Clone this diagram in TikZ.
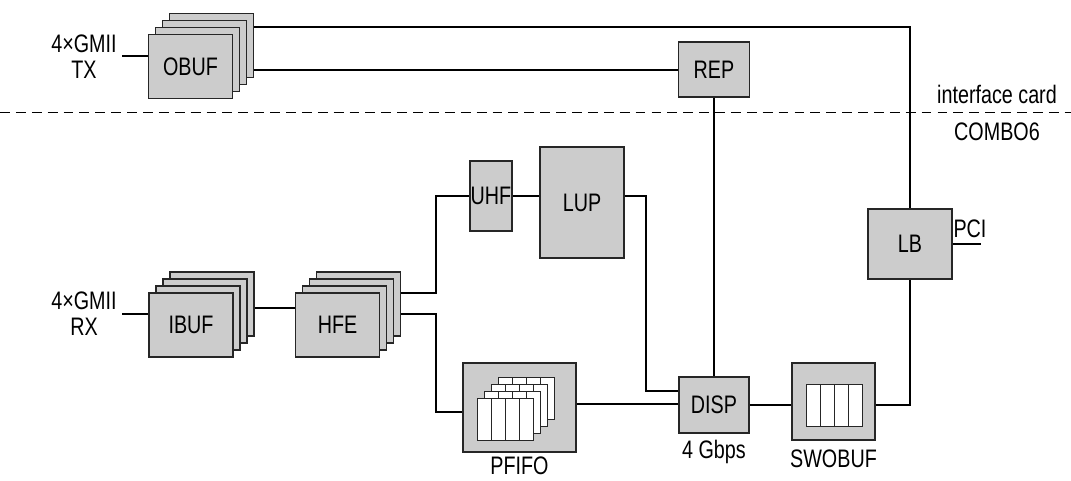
\documentclass[tikz,border=0pt]{standalone}
\usepackage{fontspec}
\setmainfont{Liberation Sans}[FakeStretch=0.78]
\usetikzlibrary{positioning,calc}

% stack of four boards: name, x, y, text
\newcommand{\layerstack}[4]{%
  \foreach \i in {3,2,1} {
    \node[block, minimum width=2.1cm, minimum height=1.6cm] (#1\i) at (#2+7*\i, #3-7*\i) {};
  }
  \node[block, minimum width=2.1cm, minimum height=1.6cm] (#1) at (#2,#3) {#4};
}

\begin{document}
\begin{tikzpicture}[x=0.025cm, y=-0.025cm,
    font=\fontsize{18}{18.4}\selectfont,
    block/.style={draw=black!85, fill=gray!40, line width=0.8pt, inner sep=0pt},
    bus/.style={line width=1.45pt},
    wire/.style={line width=1pt},
    cell/.style={draw=black!85, fill=white, line width=0.7pt}]
    \useasboundingbox (0,0) rectangle (1071,480);

    % interface card (transmit)
    \layerstack{OBUF}{190.5}{66.5}{OBUF}
    \node[block, minimum width=1.775cm, minimum height=1.375cm] (REP) at (714,69.5) {REP};
    \node[align=center] (txlbl) at (84,56.5) {4×GMII\\TX};
    \coordinate (txin) at (122,56);

    % border between the cards
    \coordinate (cardL) at (0,112);
    \coordinate (cardR) at (1071,112);
    \draw[dash pattern=on 7pt off 4.3pt, line width=0.6pt] (cardL) -- (cardR);
    \node[anchor=base] (cardlbl) at (997,103) {interface card};
    \node[anchor=base] (combolbl) at (997,140) {COMBO6};

    % COMBO6 (receive path)
    \layerstack{IBUF}{191}{325}{IBUF}
    \layerstack{HFE}{337.5}{325}{HFE}
    \node[align=center] (rxlbl) at (84,314) {4×GMII\\RX};
    \coordinate (rxin) at (122,314);
    \node[block, minimum width=1.05cm, minimum height=1.75cm] (UHF) at (491,196) {UHF};
    \node[block, minimum width=2.1cm, minimum height=2.775cm] (LUP) at (582,202.5) {LUP};
    \node[block, minimum width=2.825cm, minimum height=2.225cm] (PFIFO) at (519.5,407.5) {};
    \node[block, minimum width=1.75cm, minimum height=1.4cm] (DISP) at (714,405) {DISP};
    \node[block, minimum width=2.075cm, minimum height=1.925cm] (SWOBUF) at (833.5,401.5) {};
    \node[block, minimum width=2.1cm, minimum height=1.75cm] (LB) at (910,244) {LB};

    % fifo cells
    \begin{scope}[shift={(PFIFO.center)}]
        \foreach \l in {3,2,1,0}
            \foreach \c in {0,...,3}
                \draw[cell] (-42.5+7*\l+14*\c, -9.5-7*\l) rectangle ++(14,42);
    \end{scope}
    \begin{scope}[shift={(SWOBUF.center)}]
        \foreach \c in {0,...,3}
            \draw[cell] (-27.5+14*\c, -17.5) rectangle ++(14,42);
    \end{scope}

    \node[anchor=base, inner sep=1pt] (pfifolbl) at (519.5,474) {PFIFO};
    \node[anchor=base] (displbl) at (714,458) {4 Gbps};
    \node[anchor=base] (swobuflbl) at (833.5,467) {SWOBUF};
    \node[anchor=base] (pcilbl) at (970,237) {PCI};

    % connections
    \draw[bus] (txin) -- (txin -| OBUF.west);
    \coordinate (obufA) at ($(OBUF3.north east)!0.22!(OBUF3.south east)$);
    \coordinate (obufB) at ($(OBUF3.north east)!0.875!(OBUF3.south east)$);
    \draw[bus] (obufA) -| (LB.north);
    \draw[wire] (obufB) -- (obufB -| REP.west);
    \draw[wire] (REP.south) -- (DISP.north);

    \draw[bus] (rxin) -- (rxin -| IBUF.west);
    \coordinate (ibufout) at ($(IBUF3.north east)!0.56!(IBUF3.south east)$);
    \draw[bus] (ibufout) -- (ibufout -| HFE.west);
    \coordinate (hfeA) at ($(HFE3.north east)!0.33!(HFE3.south east)$);
    \coordinate (hfeB) at ($(HFE3.north east)!0.66!(HFE3.south east)$);
    \coordinate (pfifoin) at ($(PFIFO.north west)!0.55!(PFIFO.south west)$);
    \draw[wire] (hfeA) -- ++(35,0) |- (UHF.west);
    \draw[bus] (hfeB) -- ++(35,0) |- (pfifoin);
    \draw[wire] (UHF.east) -- (UHF.east -| LUP.west);
    \coordinate (lupout) at ($(LUP.north east)!0.44!(LUP.south east)$);
    \coordinate (dispin) at ($(DISP.north west)!0.25!(DISP.south west)$);
    \draw[bus] (lupout) -- ++(21,0) |- (dispin);
    \coordinate (pfifoout) at ($(PFIFO.north east)!0.46!(PFIFO.south east)$);
    \draw[bus] (pfifoout) -- (pfifoout -| DISP.west);
    \draw[bus] (DISP.east) -- (DISP.east -| SWOBUF.west);
    \draw[bus] (SWOBUF.east |- DISP.east) -| (LB.south);
    \coordinate (pci) at ($(LB.east)+(28,0)$);
    \draw[bus] (LB.east) -- (pci);
\end{tikzpicture}
\end{document}
